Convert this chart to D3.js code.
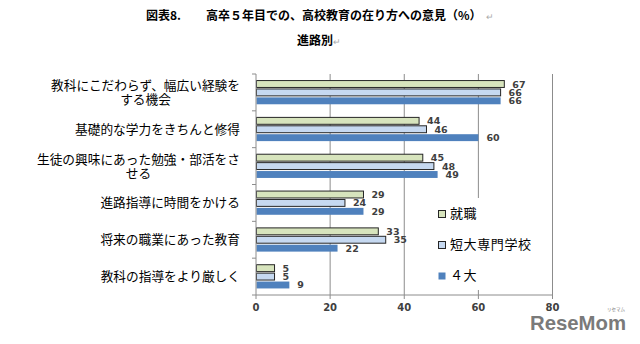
<!DOCTYPE html>
<html><head><meta charset="utf-8">
<script src="https://cdn.jsdelivr.net/npm/d3@7"></script>
<style>
html,body{margin:0;padding:0;background:#fff;}
svg{display:block;}
</style></head>
<body>
<svg id="c" width="640" height="344"></svg>
<script>
const categories = [
  ["教科にこだわらず、幅広い経験を","する機会"],
  ["基礎的な学力をきちんと修得"],
  ["生徒の興味にあった勉強・部活をさ","せる"],
  ["進路指導に時間をかける"],
  ["将来の職業にあった教育"],
  ["教科の指導をより厳しく"]
];
const seriesNames = ["就職","短大専門学校","４大"];
const shushoku = [67,44,45,29,33,5];
const tandai   = [66,46,48,24,35,5];
const yondai   = [66,60,49,29,22,9];
const seriesValues = [shushoku, tandai, yondai];
const xTicks = [0,20,40,60,80];
const colors = ["#d7e4bd","#c6d9f1","#4f81bd"];
const strokes = ["#262626","#262626","none"];

const svg = d3.select("#c");
const jp = "'Noto Sans CJK JP','Noto Sans',sans-serif";
const num = "'DejaVu Sans',sans-serif";

// title
svg.append("text").attr("x",146).attr("y",20).attr("font-family",jp).attr("font-weight","bold")
  .attr("font-size",12).attr("fill","#000").text("図表8.");
svg.append("text").attr("x",206).attr("y",20).attr("font-family",jp).attr("font-weight","bold")
  .attr("font-size",12).attr("fill","#000").text("高卒５年目での、高校教育の在り方への意見（%）");
svg.append("text").attr("x",486).attr("y",20).attr("font-family",jp)
  .attr("font-size",9).attr("fill","#aaa").text("↵");
svg.append("text").attr("x",297).attr("y",45).attr("font-family",jp).attr("font-weight","bold")
  .attr("font-size",12).attr("fill","#000").text("進路別");
svg.append("text").attr("x",333).attr("y",45).attr("font-family",jp)
  .attr("font-size",9).attr("fill","#aaa").text("↵");

const x = d3.scaleLinear().domain([0,80]).range([256,552.5]);
const y = d3.scaleBand().domain(d3.range(categories.length)).range([74,295]).padding(0);
const inner = d3.scaleBand().domain(d3.range(3)).range([0,y.bandwidth()]).paddingInner(0.06).paddingOuter(0.72);

const gridColor = "#8c8c8c";
// gridlines
svg.append("g").selectAll("line").data(xTicks.slice(1)).join("line")
  .attr("x1",d=>x(d)).attr("x2",d=>x(d)).attr("y1",74).attr("y2",295)
  .attr("stroke",gridColor).attr("stroke-width",1);

// legend background (covers gridline)
const lg = svg.append("g");
lg.append("rect").attr("x",430).attr("y",198).attr("width",114).attr("height",92).attr("fill","#fff");

// bars
const groups = svg.append("g").selectAll("g").data(seriesValues).join("g");
groups.each(function(vals, si){
  const g = d3.select(this);
  g.selectAll("rect").data(vals).join("rect")
    .attr("x",x(0)+0.5)
    .attr("y",(d,i)=>y(i)+inner(si)+0.5)
    .attr("width",d=>x(d)-x(0)-0.5)
    .attr("height",inner.bandwidth()-1)
    .attr("fill",colors[si])
    .attr("stroke",strokes[si]).attr("stroke-width",1);
  g.selectAll("text").data(vals).join("text")
    .attr("x",d=>x(d)+8)
    .attr("y",(d,i)=>y(i)+inner(si)+inner.bandwidth()/2+3.5)
    .attr("font-family",num).attr("font-weight","bold").attr("font-size",9.5)
    .attr("fill","#404040").text(d=>d);
});

// axes
const ax = svg.append("g");
ax.append("line").attr("x1",x(0)).attr("x2",x(0)).attr("y1",74).attr("y2",295).attr("stroke",gridColor);
ax.append("line").attr("x1",x(0)).attr("x2",x(80)).attr("y1",295).attr("y2",295).attr("stroke",gridColor);
const yTicks = d3.range(categories.length+1).map(i=> i<categories.length ? y(i) : 295);
ax.selectAll(".yt").data(yTicks).join("line").attr("class","yt")
  .attr("x1",x(0)-4).attr("x2",x(0)).attr("y1",d=>d).attr("y2",d=>d).attr("stroke",gridColor);
ax.selectAll(".xt").data(xTicks).join("line").attr("class","xt")
  .attr("x1",d=>x(d)).attr("x2",d=>x(d)).attr("y1",295).attr("y2",299).attr("stroke",gridColor);
ax.selectAll(".xl").data(xTicks).join("text").attr("class","xl")
  .attr("x",d=>x(d)).attr("y",311).attr("text-anchor","middle")
  .attr("font-family",num).attr("font-weight","bold").attr("font-size",10).attr("fill","#404040").text(d=>d);

// category labels
const right = 240;
categories.forEach((lines,i)=>{
  const cy = y(i)+y.bandwidth()/2;
  const g = svg.append("g");
  const ts = lines.map((l,k)=> g.append("text").attr("font-family",jp).attr("font-size",12.7)
      .attr("fill","#000").attr("text-anchor","middle")
      .attr("y", cy + (k-(lines.length-1)/2)*14 + 4.5).text(l));
  const w = d3.max(ts, t=>t.node().getComputedTextLength());
  ts.forEach(t=>t.attr("x", right - w/2));
});

// legend
const legY = [214,245,276];
seriesNames.forEach((n,i)=>{
  lg.append("rect").attr("x",438.5).attr("y",legY[i]-3.5).attr("width",7).attr("height",7)
    .attr("fill",colors[i]).attr("stroke",strokes[i]==="none"?"none":"#262626");
  lg.append("text").attr("x",450).attr("y",legY[i]+4).attr("font-family",jp)
    .attr("font-size",13).attr("fill","#000").attr("letter-spacing",0.6).text(n);
});

// watermark
svg.append("text").attr("x",530).attr("y",330).attr("font-family","'Liberation Sans',Arial,sans-serif")
  .attr("font-weight","bold").attr("font-size",21).attr("fill","#7a7a7a")
  .attr("textLength",96).attr("lengthAdjust","spacingAndGlyphs").text("ReseMom");
svg.append("text").attr("x",607).attr("y",311).attr("font-family",jp)
  .attr("font-size",4.5).attr("fill","#7a7a7a").text("リセマム");
</script>
</body></html>
